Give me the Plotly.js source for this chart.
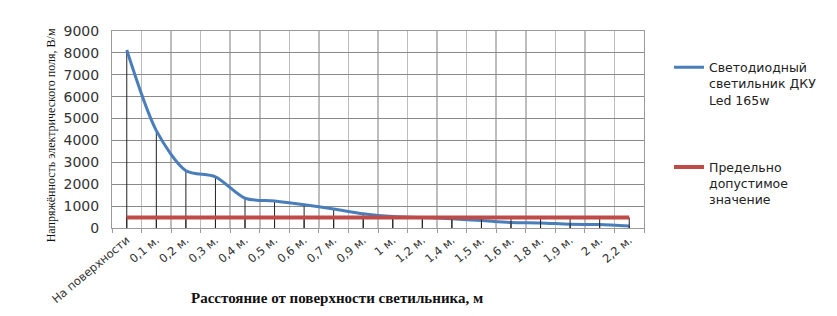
<!DOCTYPE html>
<html>
<head>
<meta charset="utf-8">
<script src="https://cdn.plot.ly/plotly-3.0.1.min.js"></script>
<style>html,body{margin:0;padding:0;background:#fff;}#chart{width:837px;height:316px;}</style>
</head>
<body>
<div id="chart"></div>
<script>
const categories = ["На поверхности","0,1 м.","0,2 м.","0,3 м.","0,4 м.","0,5 м.","0,6 м.","0,7 м.","0,9 м.","1 м.","1,2 м.","1,4 м.","1,5 м.","1,6 м.","1,8 м.","1,9 м.","2 м.","2,2 м."];
const ledValues = [8130, 4450, 2620, 2340, 1360, 1230, 1060, 870, 650, 520, 480, 420, 340, 250, 230, 170, 160, 90];
const limitValues = [480, 480, 480, 480, 480, 480, 480, 480, 480, 480, 480, 480, 480, 480, 480, 480, 480, 480];
const seriesNames = ["Светодиодный<br>светильник ДКУ<br>Led 165w", "Предельно<br>допустимое<br>значение"];
const xTitle = "Расстояние от поверхности светильника, м";
const yTitle = "Напряжённость электрического поля, В/м";
const yTicks = [0,1000,2000,3000,4000,5000,6000,7000,8000,9000];

const zeros = categories.map(() => 0);

const traces = [
  {
    x: categories, y: ledValues, name: seriesNames[0], type: 'scatter', mode: 'lines',
    line: {color: '#4A7EBB', width: 3, shape: 'spline', smoothing: 0.8},
    legendgroup: 'a',
    error_y: {type: 'data', symmetric: false, array: zeros, arrayminus: ledValues, width: 0, thickness: 1, color: '#222'}
  },
  {
    x: categories, y: limitValues, name: seriesNames[1], type: 'scatter', mode: 'lines',
    line: {color: '#BE4B48', width: 4},
    legendgroup: 'b',
    error_y: {type: 'data', symmetric: false, array: zeros, arrayminus: limitValues, width: 0, thickness: 1, color: '#222'}
  }
];

const layout = {
  width: 837, height: 316,
  margin: {l: 112, r: 193, t: 31, b: 88},
  paper_bgcolor: '#fff', plot_bgcolor: '#fff',
  font: {family: 'DejaVu Sans, sans-serif', color: '#222'},
  showlegend: true,
  legend: {
    x: 1.047, y: 0.89, xanchor: 'left', yanchor: 'top',
    traceorder: 'grouped', tracegroupgap: 48, valign: 'top',
    font: {family: 'DejaVu Sans, sans-serif', size: 12.5, color: '#222'},
    bgcolor: 'rgba(0,0,0,0)'
  },
  xaxis: {
    type: 'category', tickson: 'boundaries',
    range: [-0.5, categories.length - 0.5],
    showgrid: true, gridcolor: '#bdbdbd', gridwidth: 1.5,
    showline: true, linecolor: '#9a9a9a', linewidth: 1, mirror: true,
    ticks: 'outside', ticklen: 4, tickcolor: '#9a9a9a',
    tickangle: -40,
    tickfont: {family: 'DejaVu Sans, sans-serif', size: 11.5, color: '#333'},
    automargin: false
  },
  yaxis: {
    range: [0, 9000], tickvals: yTicks,
    showgrid: true, gridcolor: '#8a8a8a', gridwidth: 1,
    showline: true, linecolor: '#9a9a9a', mirror: true,
    zeroline: false,
    ticks: '', ticklabelstandoff: 9,
    tickfont: {family: 'DejaVu Sans, sans-serif', size: 14, color: '#333'},
    automargin: false
  },
  annotations: [
    {text: xTitle, xref: 'paper', yref: 'paper', x: 0.423, y: -0.355, xanchor: 'center', yanchor: 'middle', showarrow: false,
     font: {family: 'Liberation Serif, serif', size: 15, color: '#111', weight: 'bold'}},
    {text: yTitle, xref: 'paper', yref: 'paper', x: -0.113, y: 0.47, xanchor: 'center', yanchor: 'middle', showarrow: false, textangle: -90,
     font: {family: 'Liberation Serif, serif', size: 12, color: '#111'}}
  ]
};

Plotly.newPlot('chart', traces, layout, {displayModeBar: false, staticPlot: true});
</script>
</body>
</html>
